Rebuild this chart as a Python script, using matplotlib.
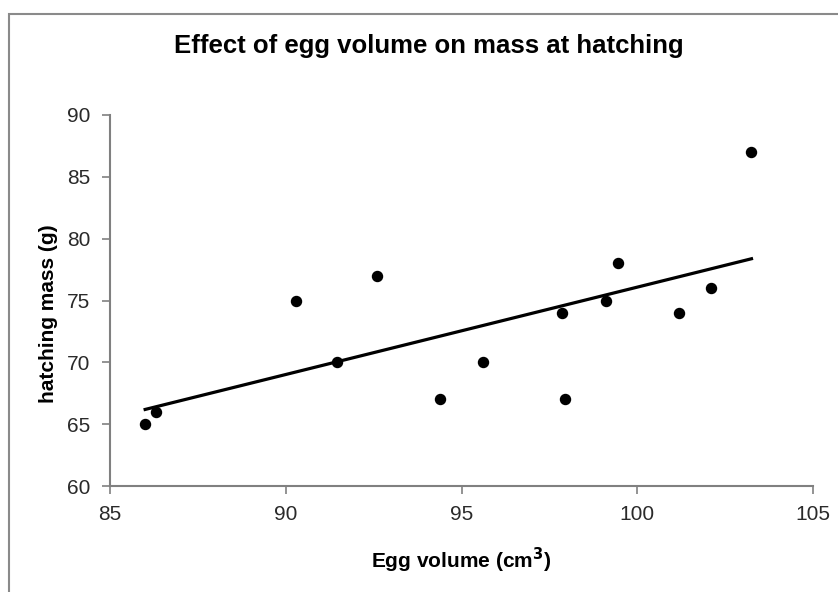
import matplotlib.pyplot as plt
import matplotlib.patches as patches
import numpy as np

# 数据
egg_volume = [86.0, 86.3, 90.3, 91.45, 92.6, 94.4, 95.6, 97.85, 97.95, 99.1, 99.45, 101.2, 102.1, 103.25]
hatch_mass = [65, 66, 75, 70, 77, 67, 70, 74, 67, 75, 78, 74, 76, 87]
x_ticks = [85, 90, 95, 100, 105]
y_ticks = [60, 65, 70, 75, 80, 85, 90]

plt.rcParams['font.family'] = ['Liberation Sans', 'DejaVu Sans']

W, H = 838, 592
fig = plt.figure(figsize=(W / 100, H / 100), dpi=100, facecolor='white')

# 外框
frame = patches.Rectangle((9 / W, -0.05), 1.0, (H - 14) / H + 0.05, transform=fig.transFigure,
                          fill=False, edgecolor='#8a8a8a', linewidth=1.5)
fig.patches.append(frame)

ax = fig.add_axes([110 / W, (H - 486) / H, (813 - 110) / W, (486 - 115) / H])
ax.scatter(egg_volume, hatch_mass, s=52, c='black', zorder=3)

# 线性趋势线
k, b = np.polyfit(egg_volume, hatch_mass, 1)
xx = np.array([min(egg_volume), max(egg_volume)])
ax.plot(xx, k * xx + b, color='black', linewidth=2.3)

ax.set_xlim(85, 105)
ax.set_ylim(60, 90)
ax.set_xticks(x_ticks)
ax.set_yticks(y_ticks)
for s in ['top', 'right']:
    ax.spines[s].set_visible(False)
for s in ['left', 'bottom']:
    ax.spines[s].set_color('#808080')
    ax.spines[s].set_linewidth(1.5)
ax.tick_params(direction='out', length=6, width=1.2, color='#808080',
               labelsize=15, labelcolor='#2a2a2a', pad=8)

fig.text(429 / W, 1 - 46 / H, 'Effect of egg volume on mass at hatching',
         ha='center', va='center', fontsize=18.5, fontweight='bold')
fig.text(461 / W, 1 - 560 / H, 'Egg volume (cm$^\\mathbf{3}$)',
         ha='center', va='center', fontsize=15, fontweight='bold')
fig.text(49 / W, 1 - 314 / H, 'hatching mass (g)', rotation=90,
         ha='center', va='center', fontsize=15, fontweight='bold')

plt.savefig('out.png', dpi=100)
